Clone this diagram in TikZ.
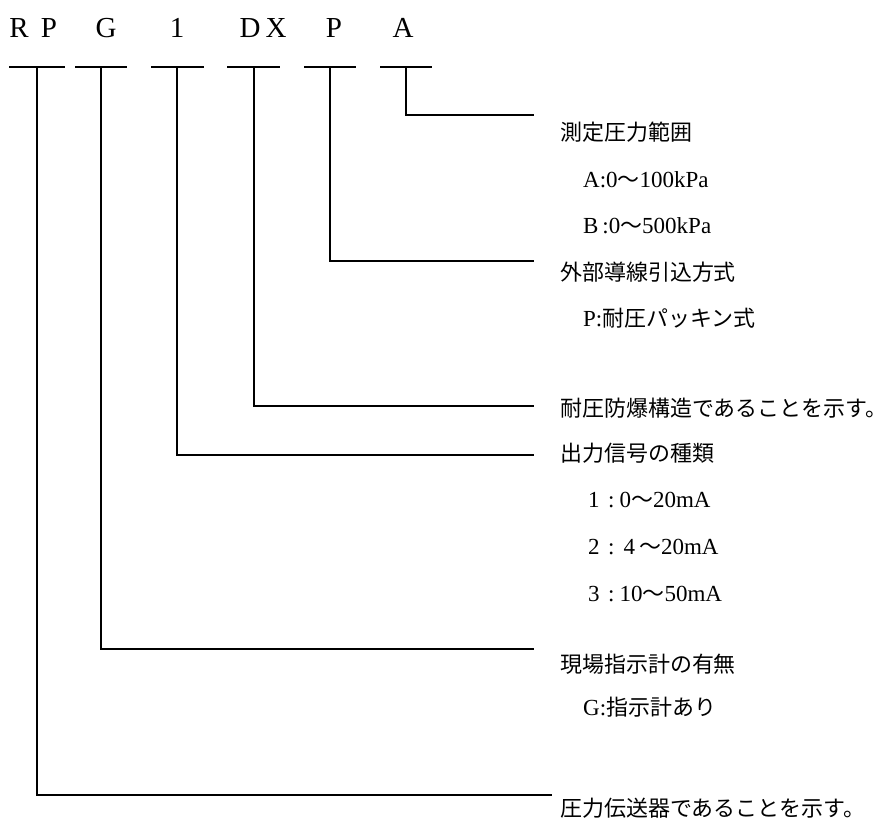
\documentclass[tikz,border=0pt]{standalone}
\usepackage{fontspec}
\setmainfont{Liberation Serif}
\newfontfamily\jp{Noto Sans CJK JP}[Scale=0.955]
\tikzset{
  code/.style={font=\fontsize{29}{29}\selectfont, inner sep=0pt, anchor=base},
  lbl/.style={font=\fontsize{23}{23}\selectfont, inner sep=0pt, anchor=west},
  wire/.style={line width=1.4pt, line cap=rect},
}
\begin{document}
\begin{tikzpicture}[x=1pt,y=-1pt]
\useasboundingbox (0,0) rectangle (893,821);
% code letters
\node[code] (cR)  at (19,38)  {R};
\node[code] (cP)  at (49,38)  {P};
\node[code] (cG)  at (106,38) {G};
\node[code] (c1)  at (177,38) {1};
\node[code] (cD)  at (250,38) {D};
\node[code] (cX)  at (276,38) {X};
\node[code] (cP2) at (334,38) {P};
\node[code] (cA)  at (403,38) {A};
% tee bars
\draw[wire] (10,67) -- (64,67);
\draw[wire] (76,67) -- (126,67);
\draw[wire] (152,67) -- (203,67);
\draw[wire] (228,67) -- (279,67);
\draw[wire] (305,67) -- (355,67);
\draw[wire] (381,67) -- (431,67);
\coordinate (t1) at (37,67);
\coordinate (t2) at (101,67);
\coordinate (t3) at (177,67);
\coordinate (t4) at (254,67);
\coordinate (t5) at (330,67);
\coordinate (t6) at (406,67);
\coordinate (e6) at (533,115);
\coordinate (e5) at (533,261);
\coordinate (e4) at (533,406);
\coordinate (e3) at (533,455);
\coordinate (e2) at (533,649);
\coordinate (e1) at (551,795);
\draw[wire] (t6) |- (e6);
\draw[wire] (t5) |- (e5);
\draw[wire] (t4) |- (e4);
\draw[wire] (t3) |- (e3);
\draw[wire] (t2) |- (e2);
\draw[wire] (t1) |- (e1);
% labels
\node[lbl] (l1) at (560,132) {\jp 測定圧力範囲};
\node[lbl] (l2) at (583,180) {A:0{\jp 〜}100kPa};
\node[lbl] (l3) at (583,226) {B\,:0{\jp 〜}500kPa};
\node[lbl] (l4) at (560,272) {\jp 外部導線引込方式};
\node[lbl] (l5) at (583,318) {P:{\jp 耐圧パッキン式}};
\node[lbl] (l6) at (560,408) {\jp 耐圧防爆構造であることを示す。};
\node[lbl] (l7) at (560,453) {\jp 出力信号の種類};
\node[lbl] (l8) at (588,500) {\makebox[20pt][l]{1}:\hspace{5pt}0{\jp 〜}20mA};
\node[lbl] (l9) at (588,547) {\makebox[20pt][l]{2}:\hspace{9pt}4\hspace{4pt}{\jp 〜}20mA};
\node[lbl] (l10) at (588,594) {\makebox[20pt][l]{3}:\hspace{5pt}10{\jp 〜}50mA};
\node[lbl] (l11) at (560,664) {\jp 現場指示計の有無};
\node[lbl] (l12) at (583,707) {G:{\jp 指示計あり}};
\node[lbl] (l13) at (560,808) {\jp 圧力伝送器であることを示す。};
\end{tikzpicture}
\end{document}
